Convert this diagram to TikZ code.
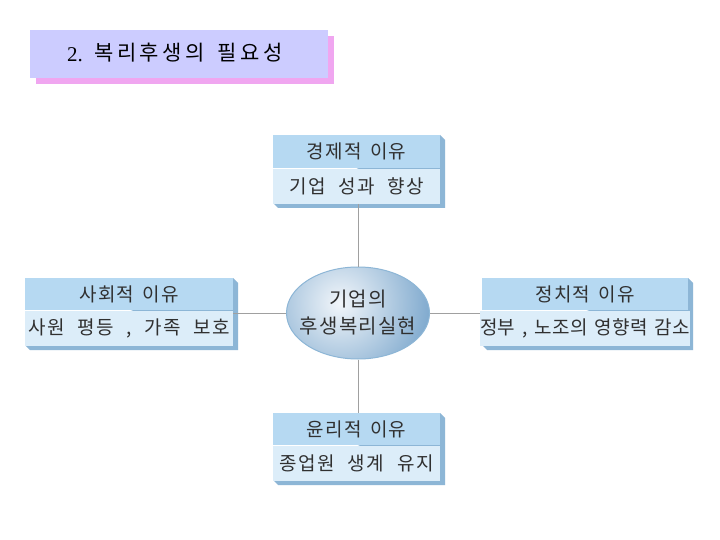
\documentclass[tikz,border=0pt]{standalone}
\usepackage{fontspec}
\setmainfont{Liberation Serif}
\newfontfamily\kr[LetterSpace=6,WordSpace=1.6]{Noto Sans CJK KR}
\newfontfamily\krw[LetterSpace=8,WordSpace=2.2]{Noto Sans CJK KR}
\newfontfamily\krn[LetterSpace=2,WordSpace=1.5]{Noto Sans CJK KR}
\newfontfamily\krt[LetterSpace=17,WordSpace=1.5]{Noto Sans CJK KR}
\usetikzlibrary{shapes.geometric}
\definecolor{hdr}{HTML}{B6D9F2}
\definecolor{bdy}{HTML}{DCEDF9}
\definecolor{shd}{HTML}{8DB6D6}
\definecolor{ttl}{HTML}{CCCCFF}
\definecolor{pnk}{HTML}{F0A6F0}
\definecolor{lin}{HTML}{A0A0A0}
\definecolor{txt}{HTML}{303030}
\definecolor{ell}{HTML}{7AA6CC}
\definecolor{ellin}{HTML}{F2F6FA}
\tikzset{
  hdrbox/.style={fill=hdr, minimum width=#1, minimum height=33pt, inner sep=0pt, text=txt, font=\kr\fontsize{19}{21}\selectfont},
  bdybox/.style={fill=bdy, minimum width=#1, minimum height=35pt, inner sep=0pt, text=txt, font=\krw\fontsize{19}{21}\selectfont},
  conn/.style={draw=lin, line width=0.8pt}
}
\newcommand{\bevel}[4]{% x1 y1 x2 y2
  \fill[shd] (#3,#2) -- (#3+5,#2+5) -- (#3+5,#4+5) -- (#1+5,#4+5) -- (#1,#4) -- cycle;}
\begin{document}
\begin{tikzpicture}[x=1pt,y=-1pt]
\useasboundingbox (0,0) rectangle (720,540);
\fill[white] (0,0) rectangle (720,540);
% title
\fill[pnk] (36,36) rectangle (334,84);
\node[fill=ttl, minimum width=298pt, minimum height=48pt, inner sep=0pt, anchor=north west] (title) at (30,30) {};
\node[font=\fontsize{21}{23}\selectfont, anchor=base west, inner sep=0pt] (titlenum) at (67,62) {2.};
\node[font=\krt\fontsize{21}{23}\selectfont, anchor=base west, inner sep=0pt] (titletext) at (94,61) {복리후생의 필요성};
% top box
\bevel{273}{135}{440}{203}
\node[hdrbox=167pt, anchor=north west] (th) at (273,135) {경제적 이유};
\node[bdybox=167pt, anchor=north] (tb) at (th.south) {기업 성과 향상};
% left box
\bevel{25}{278}{233}{345}
\node[hdrbox=208pt, minimum height=32pt, anchor=north west] (lh) at (25,278) {사회적 이유};
\node[bdybox=208pt, anchor=north] (lb) at (lh.south) {사원 평등 , 가족 보호};
% right box
\bevel{482}{278}{688}{345}
\node[hdrbox=206pt, minimum height=32pt, anchor=north west] (rh) at (482,278) {정치적 이유};
\node[bdybox=206pt, anchor=north, font=\krn\fontsize{19}{21}\selectfont] (rb) at (rh.south) {정부 , 노조의 영향력 감소};
% bottom box
\bevel{273}{413}{440}{480}
\node[hdrbox=167pt, minimum height=32pt, anchor=north west] (bh) at (273,413) {윤리적 이유};
\node[bdybox=167pt, anchor=north] (bb) at (bh.south) {종업원 생계 유지};
% ellipse
\node[ellipse, draw=shd, line width=1pt, minimum width=143pt, minimum height=92pt, inner sep=0pt,
  path picture={\shade[inner color=ellin, outer color=ell] ([xshift=-18pt,yshift=10pt]path picture bounding box.center) circle (95pt);}] (c) at (358,313) {};
\node[text=txt, font=\kr\fontsize{20}{27}\selectfont, align=center, inner sep=0pt] (ct) at (c.center) {기업의\\후생복리실현};
% connectors
\draw[conn] (tb.south -| c.north) -- (c.north);
\draw[conn] (c.south) -- (bh.north -| c.south);
\draw[conn] (lb.north east |- c.west) -- (c.west);
\draw[conn] (c.east) -- (rb.north west |- c.east);
\end{tikzpicture}
\end{document}
